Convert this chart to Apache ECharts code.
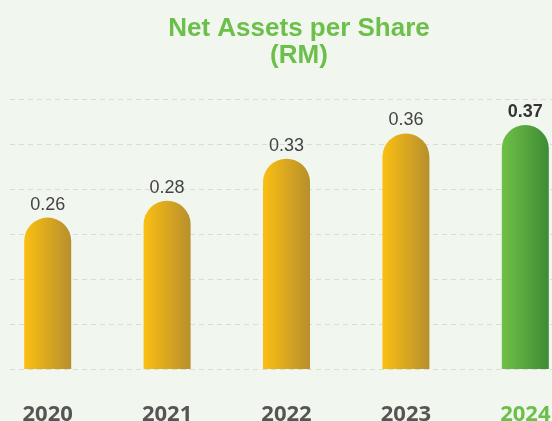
<!DOCTYPE html>
<html>
<head>
<meta charset="utf-8">
<title>Net Assets per Share</title>
<script src="https://cdn.jsdelivr.net/npm/echarts@6/dist/echarts.min.js"></script>
<style>
  html, body { margin: 0; padding: 0; background: #f1f7ee; }
  #chart { width: 552px; height: 421px; }
</style>
</head>
<body>
<div id="chart"></div>
<script>
// data
const years = ['2020', '2021', '2022', '2023', '2024']
const navps = [0.26, 0.28, 0.33, 0.36, 0.37]
const gridSteps = [0, 1, 2, 3, 4, 5, 6]   // dashed guide lines

const chartInstance = echarts.init(document.getElementById('chart'))

// gold bars for past years, green for the current year
const goldFill = new echarts.graphic.LinearGradient(0, 0, 1, 0, [
  { offset: 0, color: '#fbbf12' },
  { offset: 1, color: '#b78f2d' }
])
const greenFill = new echarts.graphic.LinearGradient(0, 0, 1, 0, [
  { offset: 0, color: '#6fc047' },
  { offset: 1, color: '#3f8b35' }
])

const lastIdx = years.length - 1
const barData = navps.map((v, i) => {
  const isLast = i === lastIdx
  return {
    value: v,
    itemStyle: { color: isLast ? greenFill : goldFill },
    label: isLast ? { fontWeight: 'bold', color: '#333' } : {}
  }
})

const option = {
  backgroundColor: '#f1f7ee',
  animation: false,
  title: {
    text: 'Net Assets per Share\n(RM)',
    left: 294,
    top: 10,
    textAlign: 'center',
    textStyle: {
      fontFamily: 'Liberation Sans',
      fontSize: 26,
      fontWeight: 'bold',
      lineHeight: 27,
      color: '#6cbf4a'
    }
  },
  grid: [
    // bars (category bands run past the picture edges)
    { left: -12, right: -33, top: 99, height: 270, outerBoundsMode: 'none' },
    // guide lines only
    { left: 10, right: 0, top: 99, height: 270, outerBoundsMode: 'none' }
  ],
  xAxis: [
    {
      type: 'category',
      gridIndex: 0,
      data: years,
      axisLine: { show: false },
      axisTick: { show: false },
      axisLabel: {
        margin: 35,
        fontFamily: 'Open Sans',
        fontSize: 22,
        fontWeight: 'bold',
        color: (val) => (val === years[lastIdx] ? '#6cbf4a' : '#555555')
      }
    },
    { type: 'value', gridIndex: 1, show: false, min: 0, max: 1 }
  ],
  yAxis: [
    {
      type: 'value',
      gridIndex: 0,
      min: 0.08,
      max: 0.401,
      show: false,
      splitLine: { show: false }
    },
    {
      type: 'value',
      gridIndex: 1,
      min: gridSteps[0],
      max: gridSteps[gridSteps.length - 1],
      interval: 1,
      axisLine: { show: false },
      axisTick: { show: false },
      axisLabel: { show: false },
      splitLine: {
        show: true,
        lineStyle: { color: '#d9ddd6', width: 1, type: [5, 4] }
      }
    }
  ],
  series: [
    {
      type: 'bar',
      xAxisIndex: 0,
      yAxisIndex: 0,
      barWidth: 47,
      data: barData,
      itemStyle: { borderRadius: [23.5, 23.5, 0, 0] },
      label: {
        show: true,
        position: 'top',
        distance: 4,
        fontFamily: 'Liberation Sans',
        fontSize: 18,
        color: '#444444',
        formatter: (p) => p.value.toFixed(2)
      },
      z: 3
    },
    {
      // empty series so the guide grid gets drawn
      type: 'line',
      xAxisIndex: 1,
      yAxisIndex: 1,
      data: [],
      silent: true
    }
  ]
}

chartInstance.setOption(option)
</script>
</body>
</html>
